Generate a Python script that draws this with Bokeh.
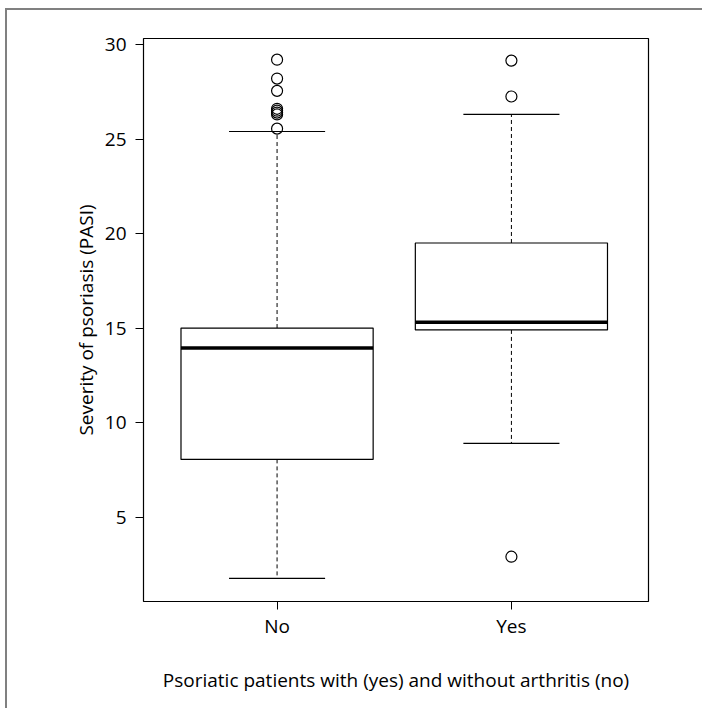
from bokeh.plotting import figure
from bokeh.models import FixedTicker, Range1d, InlineStyleSheet
from bokeh.embed import file_html
from bokeh.resources import INLINE

# ---- data ----
categories = ["No", "Yes"]
q1 = [8.05, 14.9]
medians = [13.95, 15.3]
q3 = [15.0, 19.5]
whisker_low = [1.75, 8.9]
whisker_high = [25.4, 26.3]
outliers_no = [29.2, 28.2, 27.55, 26.6, 26.5, 26.4, 26.3, 25.55]
outliers_yes = [29.15, 27.25, 2.9]
y_ticks = [5, 10, 15, 20, 25, 30]

FONT = "Open Sans"
BOX_W = 0.82
CAP_W = 0.41

pos = [i + 1 for i in range(len(categories))]

p = figure(width=697, height=700, output_backend="svg", toolbar_location=None,
           tools="",
           x_range=Range1d(0.43, 2.585), y_range=Range1d(0.53, 30.32),
           min_border_left=136, min_border_right=56, min_border_top=28,
           min_border_bottom=109)
p.styles = {"margin-left": "5px", "margin-top": "8px",
            "border-left": "2px solid #808080",
            "border-top": "2px solid #808080",
            "overflow": "hidden"}
p.stylesheets = [InlineStyleSheet(css=(
    "[class*='Toolbar'], [class*='toolbar'] { display: none !important; }"))]
p.toolbar.logo = None
p.title.visible = False
p.background_fill_color = "white"
p.border_fill_color = "white"
p.outline_line_color = "black"
p.outline_line_width = 1.2
p.grid.visible = False

# whiskers (dashed)
p.segment(x0=pos, x1=pos, y0=q3, y1=whisker_high, line_color="black",
          line_width=1, line_dash="4 3")
p.segment(x0=pos, x1=pos, y0=q1, y1=whisker_low, line_color="black",
          line_width=1, line_dash="4 3")
# caps
p.segment(x0=[x - CAP_W / 2 for x in pos], x1=[x + CAP_W / 2 for x in pos],
          y0=whisker_high, y1=whisker_high, line_color="black", line_width=1.2)
p.segment(x0=[x - CAP_W / 2 for x in pos], x1=[x + CAP_W / 2 for x in pos],
          y0=whisker_low, y1=whisker_low, line_color="black", line_width=1.2)
# boxes
p.vbar(x=pos, width=BOX_W, bottom=q1, top=q3, fill_color="white",
       line_color="black", line_width=1.2)
# medians
p.segment(x0=[x - BOX_W / 2 for x in pos], x1=[x + BOX_W / 2 for x in pos],
          y0=medians, y1=medians, line_color="black", line_width=3.5)
# outliers
p.scatter(x=[pos[0]] * len(outliers_no), y=outliers_no, size=11,
          fill_color=None, line_color="black", line_width=1.2)
p.scatter(x=[pos[1]] * len(outliers_yes), y=outliers_yes, size=11,
          fill_color=None, line_color="black", line_width=1.2)

# axes
p.xaxis.ticker = FixedTicker(ticks=pos)
p.xaxis.major_label_overrides = {x: c for x, c in zip(pos, categories)}
p.yaxis.ticker = FixedTicker(ticks=y_ticks)
for ax in (p.xaxis[0], p.yaxis[0]):
    ax.axis_line_color = None
    ax.major_tick_line_color = "black"
    ax.major_tick_out = 8
    ax.major_tick_in = 0
    ax.minor_tick_line_color = None
    ax.major_label_text_font = FONT
    ax.major_label_text_font_size = "19px"
    ax.major_label_text_color = "black"
    ax.axis_label_text_font = FONT
    ax.axis_label_text_font_size = "19px"
    ax.axis_label_text_font_style = "normal"
    ax.axis_label_text_color = "black"

p.xaxis.axis_label = "Psoriatic patients with (yes) and without arthritis (no)"
p.yaxis.axis_label = "Severity of psoriasis (PASI)"
p.xaxis.major_label_standoff = 3
p.xaxis.axis_label_standoff = 25
p.yaxis.major_label_standoff = 9
p.yaxis.axis_label_standoff = 3

open("out.html", "w").write(file_html(p, INLINE))
